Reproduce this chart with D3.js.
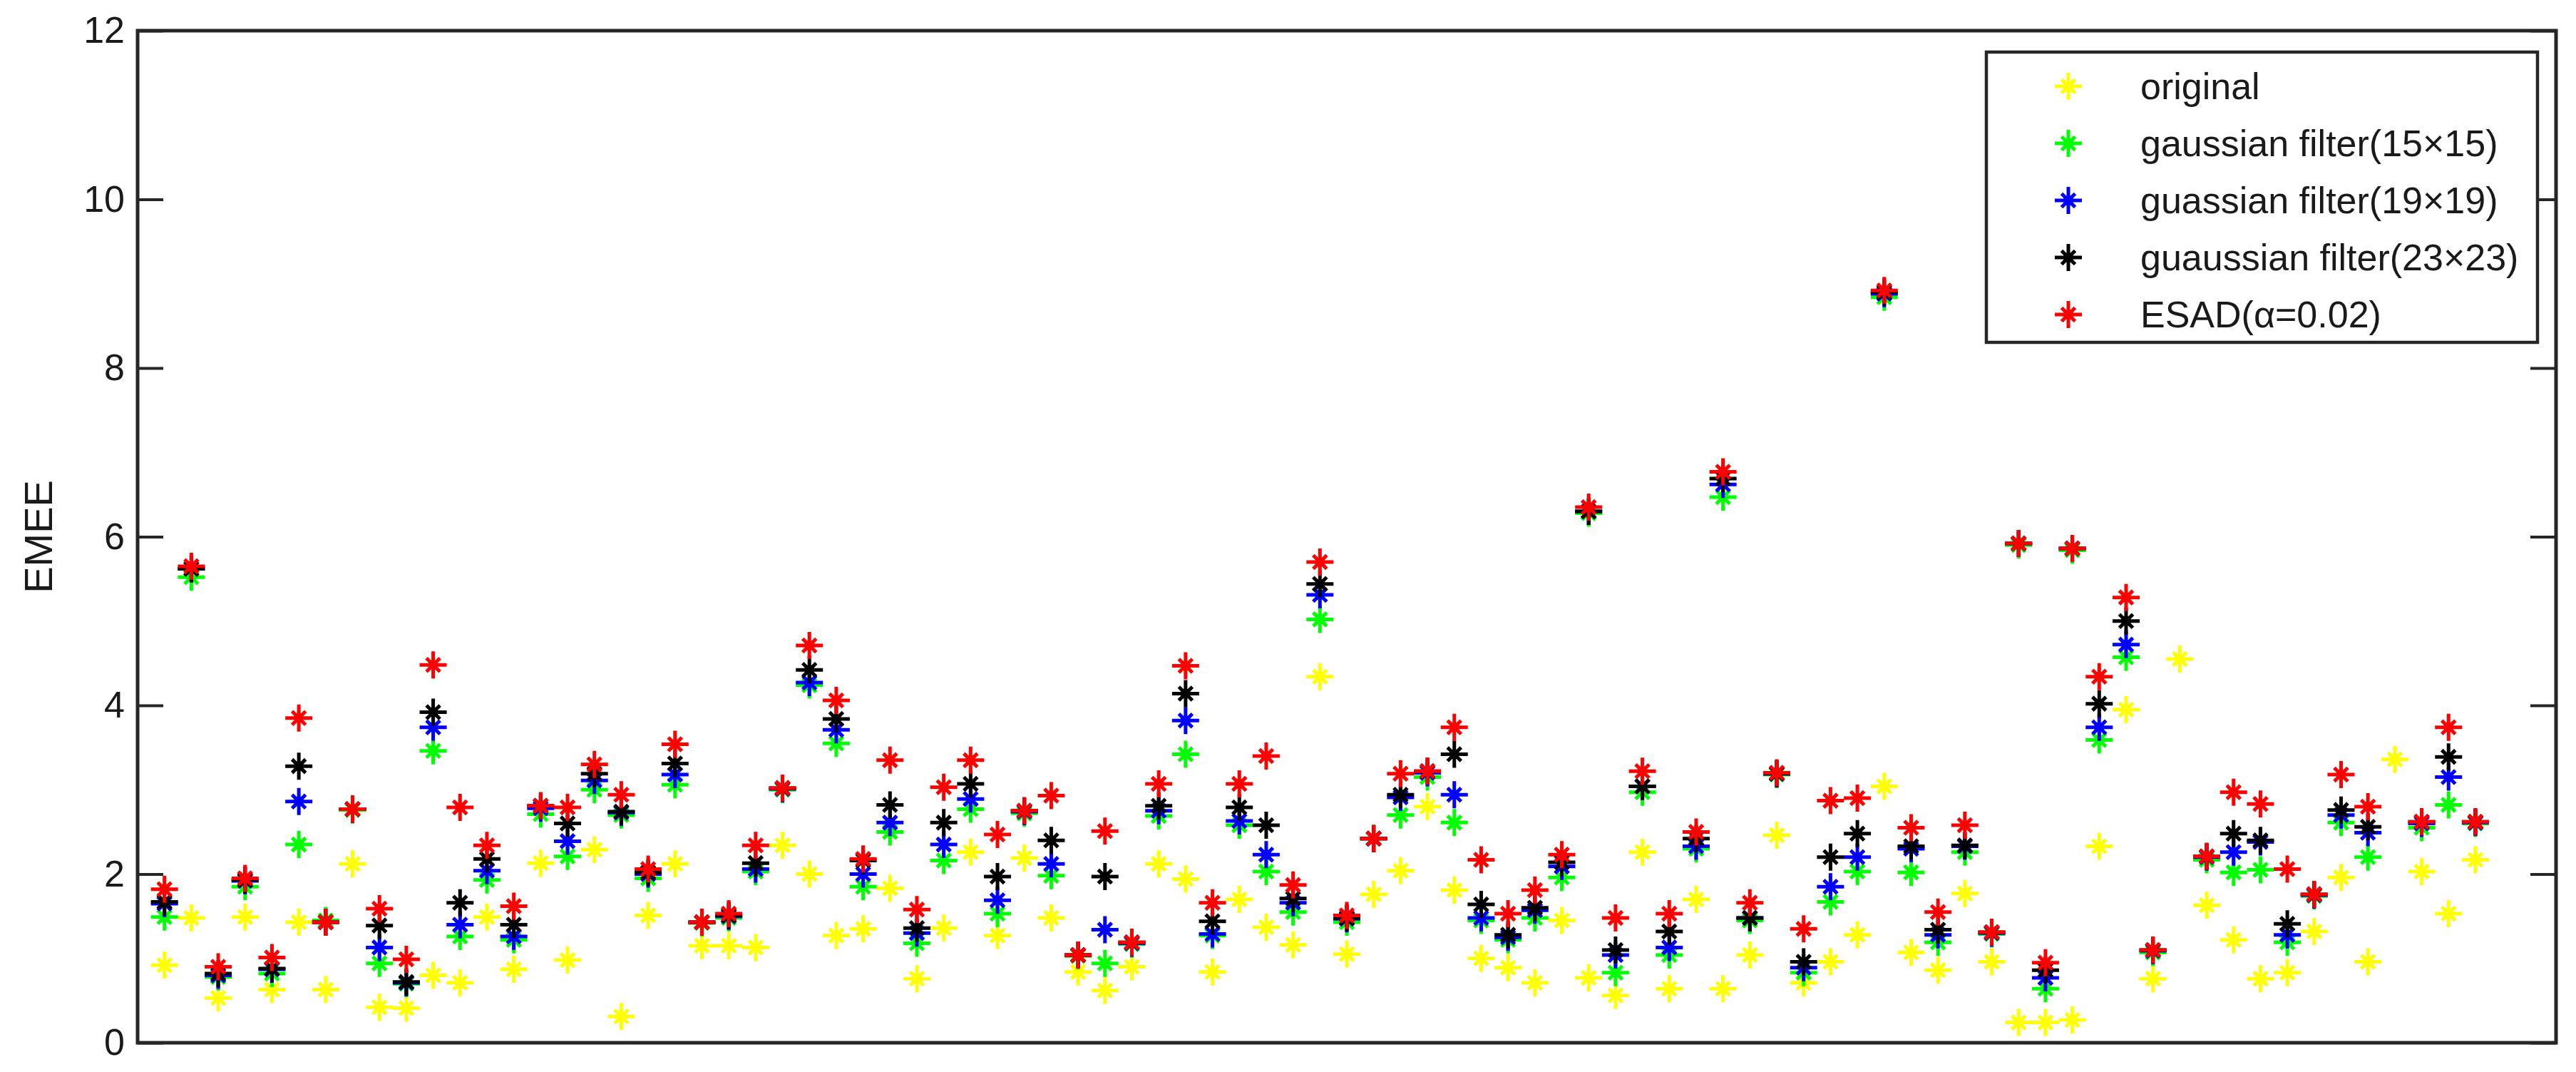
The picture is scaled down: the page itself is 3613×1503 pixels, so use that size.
<!DOCTYPE html>
<html>
<head>
<meta charset="utf-8">
<script src="https://cdn.jsdelivr.net/npm/d3@7"></script>
<style>
  html, body { margin: 0; padding: 0; background: #fff; }
  svg { display: block; font-family: "Liberation Sans", Arial, sans-serif; }
</style>
</head>
<body>
<svg id="chart"></svg>
<script>
// values, one entry per image (1..87), null = no marker
const original = [0.92,1.48,0.53,1.49,0.63,1.43,0.63,2.12,0.42,0.41,0.80,0.71,1.49,0.87,2.13,0.98,2.29,0.31,1.51,2.12,
  1.15,1.15,1.13,2.34,2.00,1.27,1.35,1.83,0.76,1.36,2.26,1.27,2.19,1.48,0.84,0.62,0.90,2.12,1.94,0.84,
  1.70,1.37,1.16,4.34,1.05,1.76,2.04,2.80,1.81,1.00,0.89,0.71,1.45,0.77,0.56,2.26,0.64,1.70,0.64,1.04,
  2.46,0.71,0.96,1.28,3.04,1.07,0.86,1.77,0.96,0.24,0.24,0.27,2.33,3.95,0.76,4.55,1.63,1.22,0.76,0.83,
  1.32,1.96,0.96,3.36,2.03,1.53,2.17];
const gauss15 = [1.49,5.52,0.78,1.85,0.82,2.35,1.45,2.76,0.94,0.70,3.46,1.26,1.93,1.22,2.71,2.21,3.00,2.70,1.95,3.06,
  1.42,1.48,2.03,3.00,4.24,3.55,1.85,2.50,1.18,2.16,2.77,1.53,2.72,1.98,1.03,0.94,1.17,2.69,3.42,1.27,
  2.58,2.03,1.55,5.02,1.43,2.42,2.70,3.15,2.61,1.45,1.22,1.48,1.96,6.28,0.83,2.97,1.04,2.30,6.47,1.45,
  3.18,0.83,1.67,2.03,8.84,2.02,1.19,2.26,1.29,5.90,0.64,5.84,3.59,4.57,1.07,null,2.17,2.02,2.05,1.19,
  1.74,2.61,2.20,null,2.55,2.82,2.60];
const gauss19 = [1.65,5.62,0.80,1.92,0.87,2.86,1.43,2.77,1.13,0.71,3.74,1.40,2.04,1.26,2.78,2.39,3.11,2.73,2.00,3.18,
  1.43,1.50,2.06,3.01,4.27,3.71,2.00,2.61,1.30,2.35,2.89,1.69,2.74,2.12,1.04,1.34,1.18,2.75,3.82,1.29,
  2.63,2.23,1.66,5.31,1.47,2.42,2.91,3.20,2.94,1.48,1.25,1.57,2.09,6.30,1.04,3.04,1.13,2.33,6.62,1.48,
  3.19,0.89,1.85,2.20,8.88,2.30,1.28,2.33,1.30,5.92,0.77,5.86,3.74,4.72,1.09,null,2.20,2.26,2.38,1.28,
  1.75,2.70,2.49,null,2.60,3.15,2.61];
const gauss23 = [1.67,5.62,0.82,1.93,0.88,3.28,1.43,2.77,1.39,0.72,3.92,1.66,2.18,1.40,2.81,2.60,3.19,2.74,2.02,3.31,
  1.43,1.51,2.13,3.02,4.42,3.84,2.16,2.82,1.36,2.61,3.07,1.97,2.75,2.40,1.04,1.97,1.19,2.81,4.14,1.44,
  2.79,2.58,1.71,5.44,1.48,2.42,2.94,3.22,3.42,1.64,1.28,1.60,2.14,6.30,1.10,3.04,1.32,2.42,6.69,1.48,
  3.19,0.96,2.20,2.48,8.90,2.33,1.34,2.34,1.31,5.92,0.86,5.86,4.02,5.00,1.10,null,2.21,2.48,2.40,1.41,
  1.76,2.76,2.56,null,2.62,3.39,2.62];
const esad = [1.82,5.65,0.90,1.95,1.01,3.85,1.43,2.77,1.59,0.99,4.48,2.79,2.34,1.62,2.81,2.79,3.30,2.94,2.06,3.54,
  1.43,1.53,2.34,3.02,4.71,4.06,2.18,3.35,1.58,3.03,3.35,2.47,2.75,2.93,1.04,2.51,1.19,3.07,4.47,1.66,
  3.07,3.40,1.87,5.70,1.51,2.42,3.19,3.22,3.74,2.17,1.53,1.81,2.23,6.35,1.48,3.22,1.53,2.50,6.77,1.66,
  3.20,1.35,2.87,2.90,8.92,2.55,1.55,2.58,1.31,5.92,0.95,5.86,4.34,5.28,1.10,null,2.21,2.97,2.83,2.06,
  1.76,3.18,2.80,null,2.62,3.74,2.62];

const seriesNames = ["original", "gaussian filter(15\u00d715)", "guassian filter(19\u00d719)",
                     "guaussian filter(23\u00d723)", "ESAD(\u03b1=0.02)"];
const seriesColors = ["#ffff00", "#00ff00", "#0000ff", "#000000", "#ff0000"];
const yTicks = [0, 2, 4, 6, 8, 10, 12];

const W = 3613, H = 1503;
const margin = { top: 43, right: 28, bottom: 41, left: 193 },
      width = W - margin.left - margin.right,
      height = H - margin.top - margin.bottom;

const svg = d3.select("#chart").attr("width", W).attr("height", H);
const g = svg.append("g").attr("transform", `translate(${margin.left},${margin.top})`);

const x = d3.scaleLinear().domain([0, 90]).range([0, width]);
const y = d3.scaleLinear().domain([0, 12]).range([height, 0]);

const allSeries = [original, gauss15, gauss19, gauss23, esad].map((vals, i) => ({
  name: seriesNames[i], color: seriesColors[i], values: vals
}));

// matlab-ish '*' marker
function star(r) {
  const d = r * 0.5;
  return `M${-r},0L${r},0M0,${-r}L0,${r}M${-d},${-d}L${d},${d}M${-d},${d}L${d},${-d}`;
}
const R = 19;

// axes: left with labels, right mirrored, ticks pointing inward
const tickColor = "#262626";
const yAxisL = g.append("g")
  .call(d3.axisLeft(y).tickValues(yTicks).tickSizeInner(-36).tickSizeOuter(0).tickPadding(18));
yAxisL.selectAll("text")
  .style("font-size", "52px")
  .attr("fill", "#1a1a1a");

const yAxisR = g.append("g")
  .attr("transform", `translate(${width},0)`)
  .call(d3.axisRight(y).tickValues(yTicks).tickSizeInner(-36).tickSizeOuter(0).tickFormat(""));

[yAxisL, yAxisR].forEach(a => {
  a.select(".domain").remove();
  a.selectAll("line").attr("stroke", tickColor).attr("stroke-width", 4);
});

// box
g.append("rect")
  .attr("x", 0).attr("y", 0)
  .attr("width", width).attr("height", height)
  .attr("fill", "none")
  .attr("stroke", tickColor)
  .attr("stroke-width", 5);

// points
const layers = g.append("g").selectAll("g")
  .data(allSeries)
  .join("g")
  .attr("stroke", d => d.color)
  .attr("fill", d => d.color);

const pts = layers.selectAll("g")
  .data(d => d.values.map((v, i) => ({ i: i + 1, v })).filter(p => p.v !== null))
  .join("g")
  .attr("transform", p => `translate(${x(p.i)},${y(p.v)})`);

pts.append("path")
  .attr("d", star(R))
  .attr("fill", "none")
  .attr("stroke-width", 5);
pts.append("circle")
  .attr("r", 7)
  .attr("stroke", "none");

// y label
svg.append("text")
  .attr("transform", `translate(73,${margin.top + height / 2}) rotate(-90)`)
  .attr("text-anchor", "middle")
  .style("font-size", "56px")
  .attr("fill", "#1a1a1a")
  .text("EMEE");

// legend
const legX = 2786, legY = 73, legW = 773, legH = 407;
const legend = svg.append("g");
legend.append("rect")
  .attr("x", legX).attr("y", legY)
  .attr("width", legW).attr("height", legH)
  .attr("fill", "#fff")
  .attr("stroke", tickColor)
  .attr("stroke-width", 4.5);

const legRows = legend.selectAll("g.row")
  .data(allSeries)
  .join("g")
  .attr("class", "row")
  .attr("transform", (d, i) => `translate(${legX},${legY + 48 + i * 80})`);

legRows.append("path")
  .attr("transform", "translate(115,0)")
  .attr("d", star(R))
  .attr("fill", "none")
  .attr("stroke", d => d.color)
  .attr("stroke-width", 5);
legRows.append("circle")
  .attr("cx", 115)
  .attr("r", 7)
  .attr("fill", d => d.color);

legRows.append("text")
  .attr("x", 216)
  .attr("dy", "0.35em")
  .style("font-size", "52px")
  .attr("fill", "#1a1a1a")
  .text(d => d.name);
</script>
</body>
</html>
